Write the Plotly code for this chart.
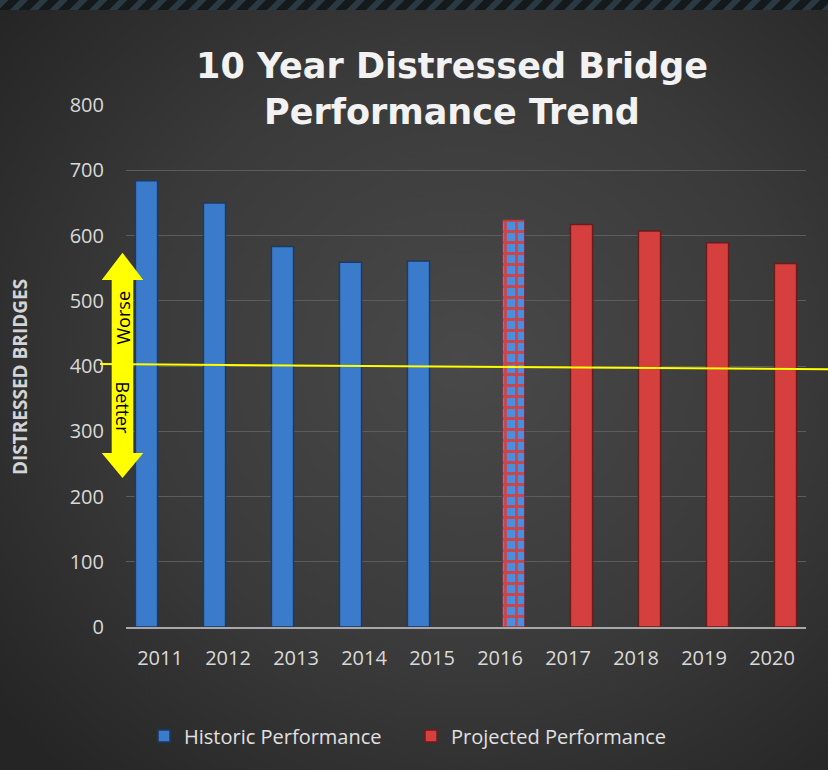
import base64
import plotly.graph_objects as go

# ---- data ----
years = ["2011", "2012", "2013", "2014", "2015", "2016", "2017", "2018", "2019", "2020"]
historic_years = ["2011", "2012", "2013", "2014", "2015"]
historic_values = [684, 650, 583, 559, 561]
transition_years = ["2016"]
transition_values = [624]
projected_years = ["2017", "2018", "2019", "2020"]
projected_values = [617, 607, 589, 557]
trend_start = 403   # value of the yellow line at the left end
trend_end = 395     # value at the right end
y_ticks = [0, 100, 200, 300, 400, 500, 600, 700, 800]

W, H = 828, 770
L, R, T, B = 126, 22, 105, 143
PW, PH = W - L - R, H - T - B

def px_x(p):
    return (p - L) / PW

def px_y(p):
    return (H - B - p) / PH

# background: radial gradient + striped top band
svg = f"""<svg xmlns="http://www.w3.org/2000/svg" width="{W}" height="{H}" viewBox="0 0 {W} {H}" preserveAspectRatio="none">
<defs>
<radialGradient id="g" cx="0.56" cy="0.47" r="0.72">
<stop offset="0" stop-color="#494949"/><stop offset="0.55" stop-color="#3a3a3a"/><stop offset="1" stop-color="#252525"/>
</radialGradient>
<pattern id="p" width="14" height="14" patternUnits="userSpaceOnUse" patternTransform="rotate(45)">
<rect width="14" height="14" fill="#14191c"/><rect width="6" height="14" fill="#2b3a42"/>
</pattern>
</defs>
<rect width="{W}" height="{H}" fill="url(#g)"/>
<rect width="{W}" height="10" fill="url(#p)"/>
</svg>"""
bg_uri = "data:image/svg+xml;base64," + base64.b64encode(svg.encode()).decode()

fig = go.Figure()
fig.add_trace(go.Bar(
    x=historic_years, y=historic_values, name="Historic Performance",
    offsetgroup="h",
    marker=dict(color="#3a7bcb", line=dict(color="#1d3a60", width=1.5)),
))
fig.add_trace(go.Bar(
    x=projected_years, y=projected_values, name="Projected Performance",
    offsetgroup="p",
    marker=dict(color="#d5403f", line=dict(color="#6a1c1c", width=1.5)),
))
fig.add_trace(go.Bar(
    x=transition_years, y=transition_values, name="2016",
    offsetgroup="p", showlegend=False,
    marker=dict(color="#4a8ee0", line=dict(color="#6a3a4a", width=1),
                pattern=dict(shape="+", fgcolor="#c9474c", bgcolor="#4a8ee0",
                             size=11, solidity=0.45, fillmode="replace")),
))

# yellow trend line
fig.add_shape(type="line", xref="paper", yref="y",
              x0=px_x(100), x1=px_x(830), y0=trend_start, y1=trend_end,
              line=dict(color="#ffff00", width=2), layer="above")

# double-headed arrow
xl, xs1, xc, xs2, xr = px_x(101.7), px_x(111.7), px_x(122.5), px_x(133.3), px_x(143.3)
yt, yhb, ybb, yb = px_y(252.7), px_y(280), px_y(453), px_y(478)
path = (f"M {xc},{yt} L {xr},{yhb} L {xs2},{yhb} L {xs2},{ybb} L {xr},{ybb} "
        f"L {xc},{yb} L {xl},{ybb} L {xs1},{ybb} L {xs1},{yhb} L {xl},{yhb} Z")
fig.add_shape(type="path", xref="paper", yref="paper", path=path,
              fillcolor="#ffff00", line=dict(color="#ffff00", width=0), layer="above")

fig.add_annotation(text="Worse", xref="paper", yref="paper", x=px_x(122.5), y=px_y(318),
                   xanchor="center", yanchor="middle",
                   showarrow=False, textangle=-90, font=dict(family="Open Sans", size=18, color="#000000"))
fig.add_annotation(text="Better", xref="paper", yref="paper", x=px_x(122.5), y=px_y(408),
                   xanchor="center", yanchor="middle",
                   showarrow=False, textangle=90, font=dict(family="Open Sans", size=18, color="#000000"))
fig.add_annotation(text="<b>DISTRESSED BRIDGES</b>", xref="paper", yref="paper",
                   x=px_x(20), y=px_y(377), xanchor="center", yanchor="middle",
                   showarrow=False, textangle=-90,
                   font=dict(family="Open Sans", size=19, color="#d4d4d4"))

fig.update_layout(
    width=W, height=H,
    margin=dict(l=L, r=R, t=T, b=B, pad=0),
    paper_bgcolor="#303030", plot_bgcolor="rgba(0,0,0,0)",
    barmode="group", bargap=0.206, bargroupgap=0.18,
    font=dict(family="Open Sans", color="#d9d9d9", size=20),
    title=dict(text="<b>10 Year Distressed Bridge<br>Performance Trend</b>",
               x=452 / W, xref="container", xanchor="center",
               y=1 - 78 / H, yref="container", yanchor="top",
               font=dict(family="DejaVu Sans", size=35, color="#f2f2f2")),
    xaxis=dict(type="category", categoryorder="array", categoryarray=years,
               showgrid=False, showline=True, linecolor="#a8a8a8", linewidth=2,
               ticks="", ticklabelstandoff=12, tickfont=dict(size=20, color="#d9d9d9"),
               fixedrange=True),
    yaxis=dict(range=[0, 800], tickvals=y_ticks, showgrid=True, gridcolor="#5c5c5c",
               gridwidth=1, zeroline=False, showline=False, ticks="",
               ticklabelstandoff=21, tickfont=dict(size=20, color="#d9d9d9"), fixedrange=True),
    legend=dict(orientation="h", x=px_x(411), y=px_y(736), xanchor="center", yanchor="middle",
                font=dict(size=20, color="#e0e0e0"), bgcolor="rgba(0,0,0,0)",
                itemwidth=30, tracegroupgap=0, entrywidth=222, entrywidthmode="pixels"),
    images=[dict(source=bg_uri, xref="paper", yref="paper",
                 x=-L / PW, y=1 + T / PH, sizex=W / PW, sizey=H / PH,
                 xanchor="left", yanchor="top", sizing="stretch", layer="below")],
    showlegend=True,
)

fig.write_html("out.html", config={"displayModeBar": False},
               post_script="document.body.style.margin='0px';")
